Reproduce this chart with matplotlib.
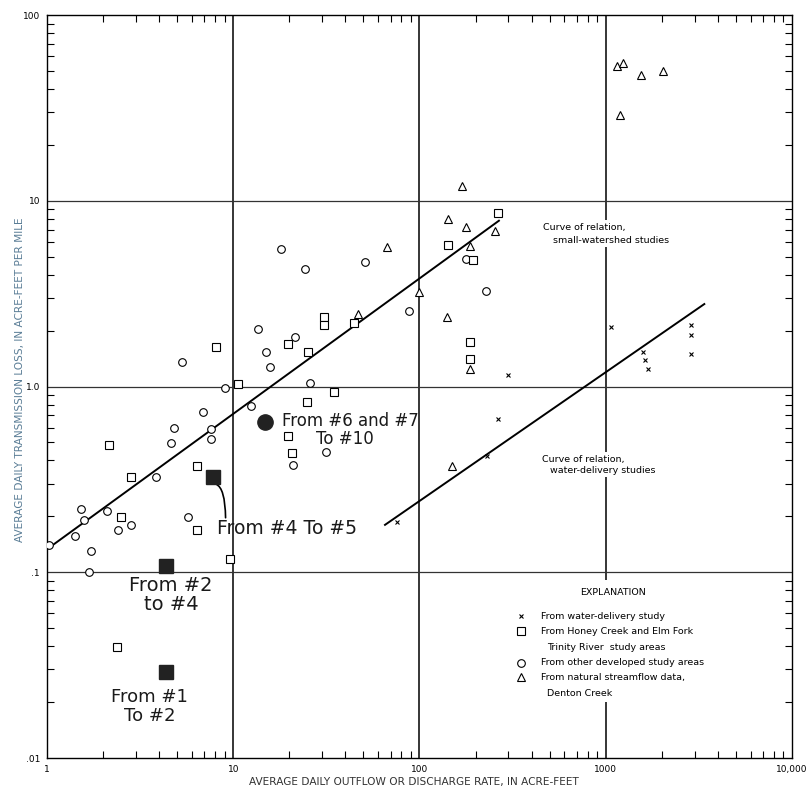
import numpy as np
import matplotlib
matplotlib.use("Agg")
import matplotlib.pyplot as plt
from matplotlib.ticker import LogLocator, NullFormatter, FixedLocator, FixedFormatter

# open circles: other developed study areas
circle_x = [5.33, 9.03, 6.88, 4.83, 7.60, 7.60, 4.62, 3.86, 1.53, 2.10, 2.40, 2.84, 1.58, 1.41,
            1.73, 1.69, 5.71, 12.45, 18.05, 24.2, 51.0, 88.1, 13.53, 21.5, 14.94, 15.8, 25.8,
            21.0, 31.4, 178.4, 226.8, 1.02]
circle_y = [1.355, 0.98, 0.726, 0.596, 0.59, 0.521, 0.494, 0.327, 0.219, 0.214, 0.168, 0.179,
            0.190, 0.157, 0.130, 0.100, 0.199, 0.79, 5.50, 4.29, 4.70, 2.55, 2.04, 1.84, 1.53,
            1.27, 1.04, 0.377, 0.444, 4.88, 3.27, 0.14]

# open squares: Honey Creek and Elm Fork Trinity River
square_x = [8.05, 10.65, 2.16, 6.39, 2.81, 2.50, 6.41, 9.61, 2.38, 24.9, 34.8, 19.75, 20.6,
            30.8, 30.8, 19.75, 25.2, 44.5, 263, 141.7, 193, 187.4, 187.4]
square_y = [1.63, 1.03, 0.483, 0.373, 0.326, 0.199, 0.169, 0.1186, 0.0396, 0.825, 0.937,
            0.543, 0.437, 2.38, 2.14, 1.69, 1.53, 2.19, 8.56, 5.80, 4.78, 1.74, 1.41]

# open triangles: natural streamflow, Denton Creek
tri_x = [169, 142.8, 178, 254, 186, 99.7, 141, 187.4, 66.9, 46.9, 148.9, 1145, 1233, 1541, 2022, 1197]
tri_y = [11.97, 7.97, 7.22, 6.88, 5.69, 3.24, 2.37, 1.24, 5.66, 2.45, 0.373, 53.1, 55.4, 47.3, 50.1, 28.9]

# x: water-delivery study
wd_x = [75.4, 231, 263, 297, 1071, 1579, 1624, 1692, 2858, 2858, 2858]
wd_y = [0.186, 0.422, 0.666, 1.157, 2.08, 1.54, 1.39, 1.24, 2.14, 1.89, 1.49]

# hand-marked points
mark_sq_x = [7.81, 4.34, 4.35]
mark_sq_y = [0.327, 0.108, 0.029]
mark_ci_x = [14.75]
mark_ci_y = [0.642]

# curves of relation (end points)
small_ws_x = [1.0, 267]
small_ws_y = [0.133, 7.81]
water_del_x = [65.3, 3383]
water_del_y = [0.18, 2.78]

xticks = [1, 10, 100, 1000, 10000]
xtick_labels = ["1", "10", "100", "1000", "10,000"]
yticks = [0.01, 0.1, 1, 10, 100]
ytick_labels = [".01", ".1", "1.0", "10", "100"]

fig = plt.figure(figsize=(8.07, 7.91), dpi=100)
ax = fig.add_axes([0.0582, 0.0417, 0.9232, 0.9393])
ax.set_xscale("log")
ax.set_yscale("log")
ax.set_xlim(1, 10000)
ax.set_ylim(0.01, 100)

for v in xticks[1:-1]:
    ax.axvline(v, color="black", lw=1.1, zorder=1)
for v in yticks[1:-1]:
    ax.axhline(v, color="#333333", lw=0.9, zorder=1)

ms = 5.5
ax.plot(circle_x, circle_y, "o", mfc="white", mec="black", ms=ms, mew=0.8, ls="none", zorder=3)
ax.plot(square_x, square_y, "s", mfc="white", mec="black", ms=ms, mew=0.8, ls="none", zorder=3)
ax.plot(tri_x, tri_y, "^", mfc="white", mec="black", ms=ms + 0.5, mew=0.8, ls="none", zorder=3)
ax.plot(wd_x, wd_y, "x", color="black", ms=3.5, mew=0.8, ls="none", zorder=3)
ax.plot(mark_sq_x, mark_sq_y, "s", color="#222222", ms=10, ls="none", zorder=4)
ax.plot(mark_ci_x, mark_ci_y, "o", color="#222222", ms=11, ls="none", zorder=4)

ax.plot(small_ws_x, small_ws_y, color="black", lw=1.4, zorder=2)
ax.plot(water_del_x, water_del_y, color="black", lw=1.4, zorder=2)

# ticks
ax.xaxis.set_major_locator(FixedLocator(xticks))
ax.xaxis.set_major_formatter(FixedFormatter(xtick_labels))
ax.yaxis.set_major_locator(FixedLocator(yticks))
ax.yaxis.set_major_formatter(FixedFormatter(ytick_labels))
ax.xaxis.set_minor_locator(LogLocator(base=10, subs=np.arange(2, 10)))
ax.yaxis.set_minor_locator(LogLocator(base=10, subs=np.arange(2, 10)))
ax.xaxis.set_minor_formatter(NullFormatter())
ax.yaxis.set_minor_formatter(NullFormatter())
ax.tick_params(which="both", direction="in", top=True, right=True, color="black")
ax.tick_params(which="major", length=0, labelsize=6.5, pad=5)
ax.tick_params(which="minor", length=5, width=0.8)
for s in ax.spines.values():
    s.set_linewidth(1.0)

# axis titles placed by hand, the plot fills nearly the whole page
fig.text(0.513, 0.0114, "AVERAGE DAILY OUTFLOW OR DISCHARGE RATE, IN ACRE-FEET",
         fontsize=7.6, ha="center", va="center", color="#333333")
fig.text(0.0248, 0.52, "AVERAGE DAILY TRANSMISSION LOSS, IN ACRE-FEET PER MILE",
         fontsize=7.6, ha="center", va="center", rotation=90, color="#5a7d96")

box = dict(facecolor="white", edgecolor="none", pad=1.5)
lbl = dict(fontsize=6.8, ha="left", va="center", transform=ax.transAxes, bbox=box, zorder=5)
ax.text(0.666, 0.7147, "Curve of relation,", **lbl)
ax.text(0.679, 0.697, "small-watershed studies", **lbl)
ax.text(0.664, 0.4024, "Curve of relation,", **lbl)
ax.text(0.675, 0.3876, "water-delivery studies", **lbl)

# explanation block
ax.add_patch(plt.Rectangle((0.62, 0.075), 0.25, 0.165, transform=ax.transAxes,
                           facecolor="white", edgecolor="none", zorder=2))
ax.text(0.760, 0.2234, "EXPLANATION", fontsize=6.8, ha="center", va="center",
        transform=ax.transAxes, zorder=5)
leg_rows = [("x", "From water-delivery study", 0.663, 0.1911),
            ("s", "From Honey Creek and Elm Fork", 0.663, 0.1709),
            (None, "Trinity River  study areas", 0.671, 0.1494),
            ("o", "From other developed study areas", 0.663, 0.1279),
            ("^", "From natural streamflow data,", 0.663, 0.1090),
            (None, "Denton Creek", 0.671, 0.0875)]
for mk, label, fx, fy in leg_rows:
    if mk == "x":
        ax.plot([0.636], [fy], "x", color="black", ms=3.5, mew=0.8,
                transform=ax.transAxes, zorder=5)
    elif mk is not None:
        ax.plot([0.636], [fy], mk, mfc="white", mec="black", ms=5.5, mew=0.8,
                transform=ax.transAxes, zorder=5)
    ax.text(fx, fy, label, fontsize=6.8, ha="left", va="center",
            transform=ax.transAxes, zorder=5)

# hand-written notes
ink = "#1a1a1a"
ax.text(18.3, 0.65, "From #6 and #7", ha="left", va="center", fontsize=12, color=ink, zorder=5)
ax.text(40, 0.52, "To #10", ha="center", va="center", fontsize=12, color=ink, zorder=5)
ax.text(8.18, 0.173, "From #4 To #5", ha="left", va="center", fontsize=13.5, color=ink, zorder=5)
ax.text(4.63, 0.0754, "From #2\nto #4", ha="center", va="center", linespacing=1.0,
        fontsize=14, color=ink, zorder=5)
ax.text(3.57, 0.0190, "From #1\nTo #2", ha="center", va="center", linespacing=1.1,
        fontsize=13, color=ink, zorder=5)
ax.annotate("", xy=(7.81, 0.30), xytext=(9.1, 0.19),
            arrowprops=dict(arrowstyle="-", color="black", lw=1.2,
                            connectionstyle="angle3,angleA=90,angleB=0"))

fig.savefig("out.png", dpi=100)
